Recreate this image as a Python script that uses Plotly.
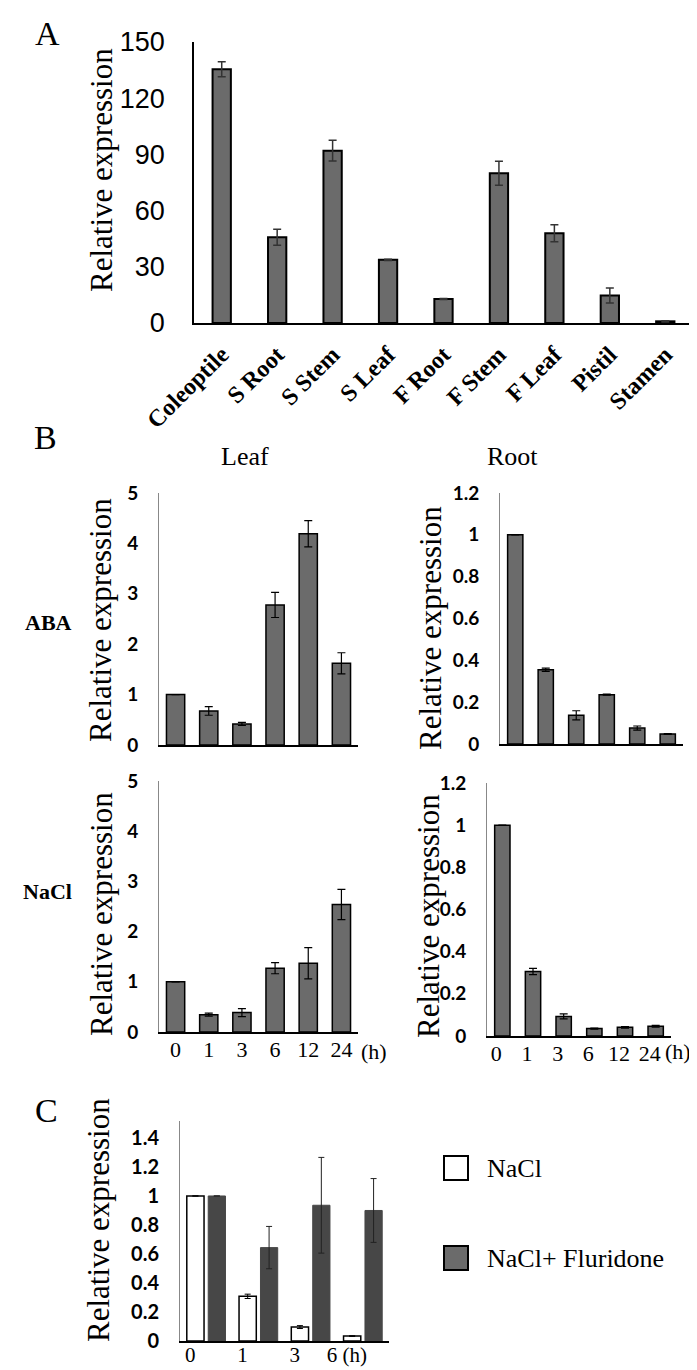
import plotly.graph_objects as go

# ---------------- data ----------------
tissues = ["Coleoptile", "S Root", "S Stem", "S Leaf", "F Root", "F Stem", "F Leaf", "Pistil", "Stamen"]
tissue_expr = [135.5, 45.8, 92.0, 33.7, 12.8, 79.9, 47.9, 14.7, 0.9]
tissue_err = [4.0, 4.3, 5.5, 0.3, 0.3, 6.4, 4.5, 4.0, 0.3]

times = ["0", "1", "3", "6", "12", "24"]
leaf_aba = [1.0, 0.675, 0.417, 2.78, 4.19, 1.62]
leaf_aba_err = [0.0, 0.085, 0.03, 0.25, 0.26, 0.21]
root_aba = [1.0, 0.355, 0.137, 0.236, 0.076, 0.048]
root_aba_err = [0.0, 0.008, 0.022, 0.002, 0.01, 0.002]
leaf_nacl = [1.0, 0.345, 0.386, 1.27, 1.37, 2.54]
leaf_nacl_err = [0.0, 0.03, 0.08, 0.11, 0.31, 0.30]
root_nacl = [1.0, 0.306, 0.093, 0.035, 0.041, 0.046]
root_nacl_err = [0.0, 0.015, 0.012, 0.002, 0.004, 0.004]

c_times = ["0", "1", "3", "6"]
c_ticktext = ["0", "1", "3", "6 (h)"]
c_nacl = [1.0, 0.308, 0.096, 0.034]
c_nacl_err = [0.0, 0.015, 0.01, 0.002]
c_flu = [1.0, 0.644, 0.936, 0.90]
c_flu_err = [0.0, 0.146, 0.33, 0.22]
c_series = ["NaCl", "NaCl+ Fluridone"]

yticks_a = [0, 30, 60, 90, 120, 150]
yticks_leaf = [0, 1, 2, 3, 4, 5]
yticks_root = [0, 0.2, 0.4, 0.6, 0.8, 1, 1.2]
yticks_c = [0, 0.2, 0.4, 0.6, 0.8, 1, 1.2, 1.4]

# ---------------- layout helpers ----------------
W, H = 697, 1370
SERIF = "Liberation Serif"
SANS = "Liberation Sans"
BOLDSANS = "Lato"
GRAY = "#6b6b6b"
DARK = "#474747"


def xd(a, b):
    return [a / W, b / W]


def yd(top, bottom):
    return [1 - bottom / H, 1 - top / H]


def px(x):
    return x / W


def py(y):
    return 1 - y / H


fig = go.Figure()

# Panel A
fig.add_trace(go.Bar(
    x=tissues, y=tissue_expr, width=0.33,
    marker=dict(color=GRAY, line=dict(color="black", width=2)),
    error_y=dict(type="data", array=tissue_err, visible=True, color="#333333", thickness=1.5, width=4),
    xaxis="x", yaxis="y", showlegend=False))


def b_bar(xa, ya, vals, errs, w):
    fig.add_trace(go.Bar(
        x=times, y=vals, width=w,
        marker=dict(color=GRAY, line=dict(color="black", width=1.5)),
        error_y=dict(type="data", array=errs, visible=True, color="black", thickness=1.2, width=4),
        xaxis=xa, yaxis=ya, showlegend=False))


b_bar("x2", "y2", leaf_aba, leaf_aba_err, 0.55)
b_bar("x3", "y3", root_aba, root_aba_err, 0.5)
b_bar("x4", "y4", leaf_nacl, leaf_nacl_err, 0.55)
b_bar("x5", "y5", root_nacl, root_nacl_err, 0.5)

# Panel C
fig.add_trace(go.Bar(
    x=c_times, y=c_nacl, width=0.33, offset=-0.37, name=c_series[0],
    marker=dict(color="white", line=dict(color="black", width=1.5)),
    error_y=dict(type="data", array=c_nacl_err, visible=True, color="black", thickness=1, width=3),
    xaxis="x6", yaxis="y6", showlegend=False))
fig.add_trace(go.Bar(
    x=c_times, y=c_flu, width=0.33, offset=0.04, name=c_series[1],
    marker=dict(color=DARK, line=dict(color=DARK, width=1)),
    error_y=dict(type="data", array=c_flu_err, visible=True, color="#222222", thickness=1, width=3),
    xaxis="x6", yaxis="y6", showlegend=False))

common = dict(showgrid=False, zeroline=False, showline=True, ticks="", fixedrange=True, automargin=False)


def yax(dom, anchor, rng, tv, font, lc, lw, standoff):
    return dict(domain=dom, anchor=anchor, range=rng, tickvals=tv, tickfont=font, linecolor=lc,
                linewidth=lw, ticklabelstandoff=standoff, **common)


def xax(dom, anchor, showlabels=True, shift=0):
    return dict(domain=dom, anchor=anchor, type="category", linecolor="black", linewidth=1.5,
                showticklabels=showlabels, tickfont=dict(family=SERIF, size=22, color="black"),
                ticklabelstandoff=-3, ticklabelshift=shift, **common)


bfont = dict(family=BOLDSANS, size=19, color="black", weight=700)

fig.update_layout(
    template="none",
    width=W, height=H, margin=dict(l=0, r=0, t=0, b=0, pad=0), autosize=False,
    paper_bgcolor="white", plot_bgcolor="white", barmode="overlay", showlegend=False,
    xaxis=dict(domain=xd(186, 685), anchor="y", type="category", linecolor="black", linewidth=2,
               tickangle=-45, tickfont=dict(family=SERIF, size=24, color="black", weight=700),
               ticklabelstandoff=6, **common),
    yaxis=yax(yd(34, 315), "x", [0, 150], yticks_a, dict(family=SANS, size=27, color="black"), "black", 1.5, 22),
    xaxis2=xax(xd(151, 350), "y2", False),
    yaxis2=yax(yd(485, 737), "x2", [0, 5], yticks_leaf, bfont, "#888888", 1, 16),
    xaxis3=xax(xd(492, 675), "y3", False),
    yaxis3=yax(yd(485, 736), "x3", [0, 1.2], yticks_root, bfont, "#888888", 1, 16),
    xaxis4=xax(xd(151, 350), "y4"),
    yaxis4=yax(yd(773, 1024), "x4", [0, 5], yticks_leaf, bfont, "#888888", 1, 16),
    xaxis5=xax(xd(479, 663), "y5", shift=-6),
    yaxis5=yax(yd(775, 1028), "x5", [0, 1.2], yticks_root, bfont, "#888888", 1, 16),
    xaxis6=dict(domain=xd(172, 381), anchor="y6", type="category", linecolor="black", linewidth=1.5,
                tickvals=c_times, ticktext=c_ticktext, ticklabelshift=-16,
                tickfont=dict(family=SERIF, size=21, color="black"), ticklabelstandoff=-6, **common),
    yaxis6=yax(yd(1113, 1333), "x6", [0, 1.517], yticks_c,
               dict(family=BOLDSANS, size=20, color="black", weight=700), "#888888", 1, 16),
)

ann = []


def text(x, y, s, size, bold=False, xanchor="center", angle=0):
    ann.append(dict(x=px(x), y=py(y), xref="paper", yref="paper", text=f"<b>{s}</b>" if bold else s,
                    showarrow=False, xanchor=xanchor, yanchor="middle", textangle=angle,
                    font=dict(family=SERIF, size=size, color="black")))


text(39, 25, "A", 34)
text(37, 430, "B", 34)
text(38, 1102, "C", 34)
text(237, 448, "Leaf", 26)
text(505, 448, "Root", 26)
text(66, 615, "ABA", 22, bold=True, xanchor="right")
text(66, 883, "NaCl", 22, bold=True, xanchor="right")
text(366, 1043, "(h)", 22)
text(670, 1043, "(h)", 22)
for (xx, yy) in [(93, 162), (93, 612), (422, 620), (93, 906), (420, 908), (90, 1212)]:
    text(xx, yy, "Relative expression", 31, angle=-90)

# legend (swatches + labels)
shapes = []
legend_rows = [(1160, "white", "black"), (1250, GRAY, "black")]
for (cy, fill, edge), label in zip(legend_rows, c_series):
    shapes.append(dict(type="rect", xref="paper", yref="paper", x0=px(436), x1=px(460),
                       y0=py(cy + 12), y1=py(cy - 12), fillcolor=fill, line=dict(color=edge, width=2)))
    ann.append(dict(x=px(477), y=py(cy), xref="paper", yref="paper", text=label, showarrow=False,
                    xanchor="left", yanchor="middle", font=dict(family=SERIF, size=26, color="black")))

fig.update_layout(annotations=ann, shapes=shapes)
fig.write_html("out.html")
